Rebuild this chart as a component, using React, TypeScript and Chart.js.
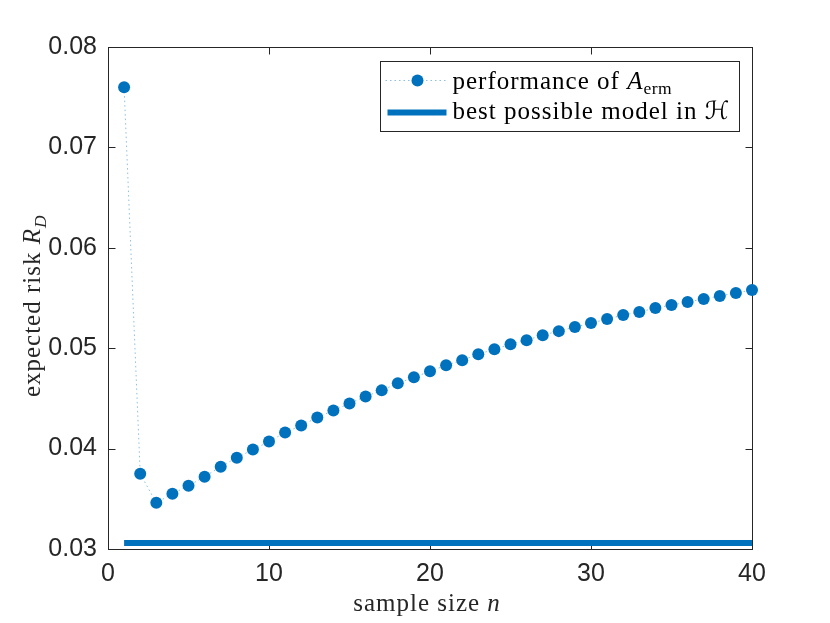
import { useEffect, useRef } from "react"
import { Chart, registerables } from "chart.js"
import type { Plugin } from "chart.js"

Chart.register(...registerables)

// sample size n
const sampleSizes = [
  1, 2, 3, 4, 5, 6, 7, 8, 9, 10, 11, 12, 13, 14, 15, 16, 17, 18, 19, 20,
  21, 22, 23, 24, 25, 26, 27, 28, 29, 30, 31, 32, 33, 34, 35, 36, 37, 38, 39, 40,
]

// expected risk of A_erm
const ermRisk = [
  0.076, 0.0375, 0.0346, 0.0355, 0.0363, 0.0372, 0.0382, 0.0391, 0.0399, 0.0407,
  0.0416, 0.0423, 0.0431, 0.0438, 0.0445, 0.0452, 0.0458, 0.0465, 0.0471, 0.0477,
  0.0483, 0.0488, 0.0494, 0.0499, 0.0504, 0.0508, 0.0513, 0.0517, 0.0521, 0.0525,
  0.0529, 0.0533, 0.0536, 0.054, 0.0543, 0.0546, 0.0549, 0.0552, 0.0555, 0.0558,
]

// best possible model in H (constant)
const bestRange = [1, 40]
const bestRisk = 0.0306

const xTicks = [0, 10, 20, 30, 40]
const yTicks = [0.03, 0.04, 0.05, 0.06, 0.07, 0.08]

const BLUE = "#0072bd"
const AXIS = "#262626"
const SERIF = "'Liberation Serif', 'DejaVu Serif', 'DejaVu Sans', serif"
const SANS = "'Liberation Sans', Arial, sans-serif"
const TICK_LEN = 7

// MATLAB-style box with inward ticks on all sides
const axesBox: Plugin = {
  id: "axesBox",
  beforeDatasetsDraw(chart) {
    const { ctx, chartArea: a, scales } = chart
    const l = Math.round(a.left) + 0.5
    const r = Math.round(a.right) + 0.5
    const t = Math.round(a.top) + 0.5
    const b = Math.round(a.bottom) + 0.5
    ctx.save()
    ctx.strokeStyle = AXIS
    ctx.lineWidth = 1
    ctx.strokeRect(l, t, r - l, b - t)
    ctx.beginPath()
    xTicks.forEach((v) => {
      const px = Math.round(scales.x.getPixelForValue(v)) + 0.5
      ctx.moveTo(px, b)
      ctx.lineTo(px, b - TICK_LEN)
      ctx.moveTo(px, t)
      ctx.lineTo(px, t + TICK_LEN)
    })
    yTicks.forEach((v) => {
      const py = Math.round(scales.y.getPixelForValue(v)) + 0.5
      ctx.moveTo(l, py)
      ctx.lineTo(l + TICK_LEN, py)
      ctx.moveTo(r, py)
      ctx.lineTo(r - TICK_LEN, py)
    })
    ctx.stroke()
    ctx.restore()
  },
}

type Run = { text: string; italic?: boolean; sub?: boolean }

function setRunFont(ctx: CanvasRenderingContext2D, run: Run, size: number) {
  const s = run.sub ? size * 0.7 : size
  ctx.font = `${run.italic ? "italic " : ""}${s}px ${SERIF}`
  ;(ctx as any).letterSpacing = run.sub ? "0.5px" : "1px"
}

function drawRuns(ctx: CanvasRenderingContext2D, runs: Run[], x: number, y: number, size: number) {
  let cx = x
  runs.forEach((run) => {
    setRunFont(ctx, run, size)
    ctx.fillText(run.text, cx, run.sub ? y + size * 0.22 : y)
    cx += ctx.measureText(run.text).width
  })
  ;(ctx as any).letterSpacing = "0px"
  return cx - x
}

function runsWidth(ctx: CanvasRenderingContext2D, runs: Run[], size: number) {
  let w = 0
  runs.forEach((run) => {
    setRunFont(ctx, run, size)
    w += ctx.measureText(run.text).width
  })
  ;(ctx as any).letterSpacing = "0px"
  return w
}

const labelsAndLegend: Plugin = {
  id: "labelsAndLegend",
  afterDraw(chart) {
    const { ctx, chartArea: a } = chart
    const size = 25
    ctx.save()
    ctx.fillStyle = AXIS
    ctx.textBaseline = "alphabetic"
    ctx.textAlign = "left"

    // x axis title
    const xRuns: Run[] = [{ text: "sample size " }, { text: "n", italic: true }]
    const xw = runsWidth(ctx, xRuns, size)
    drawRuns(ctx, xRuns, (a.left + a.right) / 2 - 3 - xw / 2, a.bottom + 62, size)

    // y axis title
    const yRuns: Run[] = [
      { text: "expected risk " },
      { text: "R", italic: true },
      { text: "D", italic: true, sub: true },
    ]
    const yw = runsWidth(ctx, yRuns, size)
    ctx.save()
    ctx.translate(40, (a.top + a.bottom) / 2 + 8)
    ctx.rotate(-Math.PI / 2)
    drawRuns(ctx, yRuns, -yw / 2, 0, size)
    ctx.restore()

    // legend
    const bw = 359
    const bh = 70
    const bx = Math.round(a.right - 13 - bw) + 0.5
    const by = Math.round(a.top + 14) + 0.5
    ctx.fillStyle = "#ffffff"
    ctx.fillRect(bx, by, bw, bh)
    ctx.strokeStyle = AXIS
    ctx.lineWidth = 1
    ctx.strokeRect(bx, by, bw, bh)

    const row1 = by + 19
    const row2 = by + 51
    ctx.save()
    ctx.strokeStyle = "rgba(0, 114, 189, 0.45)"
    ctx.setLineDash([1.5, 3])
    ctx.beginPath()
    ctx.moveTo(bx + 5, row1)
    ctx.lineTo(bx + 65, row1)
    ctx.stroke()
    ctx.restore()
    ctx.fillStyle = BLUE
    ctx.beginPath()
    ctx.arc(bx + 37, row1, 6, 0, Math.PI * 2)
    ctx.fill()

    ctx.strokeStyle = BLUE
    ctx.lineWidth = 6
    ctx.beginPath()
    ctx.moveTo(bx + 7, row2)
    ctx.lineTo(bx + 66, row2)
    ctx.stroke()

    ctx.fillStyle = "#000000"
    drawRuns(
      ctx,
      [{ text: "performance of " }, { text: "A", italic: true }, { text: "erm", sub: true }],
      bx + 72,
      by + 27,
      size
    )
    drawRuns(ctx, [{ text: "best possible model in " }, { text: "ℋ", italic: true }], bx + 72, by + 57, size)
    ctx.restore()
  },
}

function RiskChart() {
  const chartRef = useRef<HTMLCanvasElement>(null)
  const chartInstance = useRef<Chart | null>(null)

  useEffect(() => {
    if (!chartRef.current) return
    if (chartInstance.current) chartInstance.current.destroy()
    const ctx = chartRef.current.getContext("2d")
    if (!ctx) return

    chartInstance.current = new Chart(ctx, {
      type: "scatter",
      data: {
        datasets: [
          {
            label: "performance of A_erm",
            data: sampleSizes.map((n, i) => ({ x: n, y: ermRisk[i] })),
            showLine: true,
            borderColor: "rgba(0, 114, 189, 0.45)",
            borderWidth: 1,
            borderDash: [1.5, 3],
            backgroundColor: BLUE,
            pointBackgroundColor: BLUE,
            pointBorderWidth: 0,
            pointRadius: 6,
            pointHoverRadius: 6,
            clip: false,
            order: 1,
          },
          {
            label: "best possible model in H",
            data: bestRange.map((n) => ({ x: n, y: bestRisk })),
            showLine: true,
            borderColor: BLUE,
            borderWidth: 6,
            borderCapStyle: "butt",
            pointRadius: 0,
            pointHoverRadius: 0,
            order: 2,
          },
        ],
      },
      options: {
        responsive: false,
        animation: false,
        layout: { padding: { left: 0, top: 47, right: 78, bottom: 0 } },
        plugins: {
          legend: { display: false },
          tooltip: { enabled: false },
        },
        scales: {
          x: {
            type: "linear",
            min: 0,
            max: 40,
            afterBuildTicks: (scale) => {
              scale.ticks = xTicks.map((v) => ({ value: v }))
            },
            afterFit: (scale) => {
              scale.height = 74
            },
            grid: { display: false, drawTicks: false },
            border: { display: false },
            ticks: {
              padding: 10,
              color: AXIS,
              font: { family: SANS, size: 25 },
              callback: (v) => String(v),
            },
          },
          y: {
            type: "linear",
            min: 0.03,
            max: 0.08,
            afterBuildTicks: (scale) => {
              scale.ticks = yTicks.map((v) => ({ value: v }))
            },
            afterFit: (scale) => {
              scale.width = 108
            },
            grid: { display: false, drawTicks: false },
            border: { display: false },
            ticks: {
              padding: 11,
              color: AXIS,
              font: { family: SANS, size: 25 },
              callback: (v) => Number(v).toFixed(2),
            },
          },
        },
      },
      plugins: [axesBox, labelsAndLegend],
    })

    return () => {
      if (chartInstance.current) {
        chartInstance.current.destroy()
        chartInstance.current = null
      }
    }
  }, [])

  return <canvas ref={chartRef} width={830} height={623} style={{ display: "block" }} />
}

export default function App() {
  useEffect(() => {
    document.body.style.margin = "0"
    document.body.style.background = "#ffffff"
  }, [])
  return <RiskChart />
}
